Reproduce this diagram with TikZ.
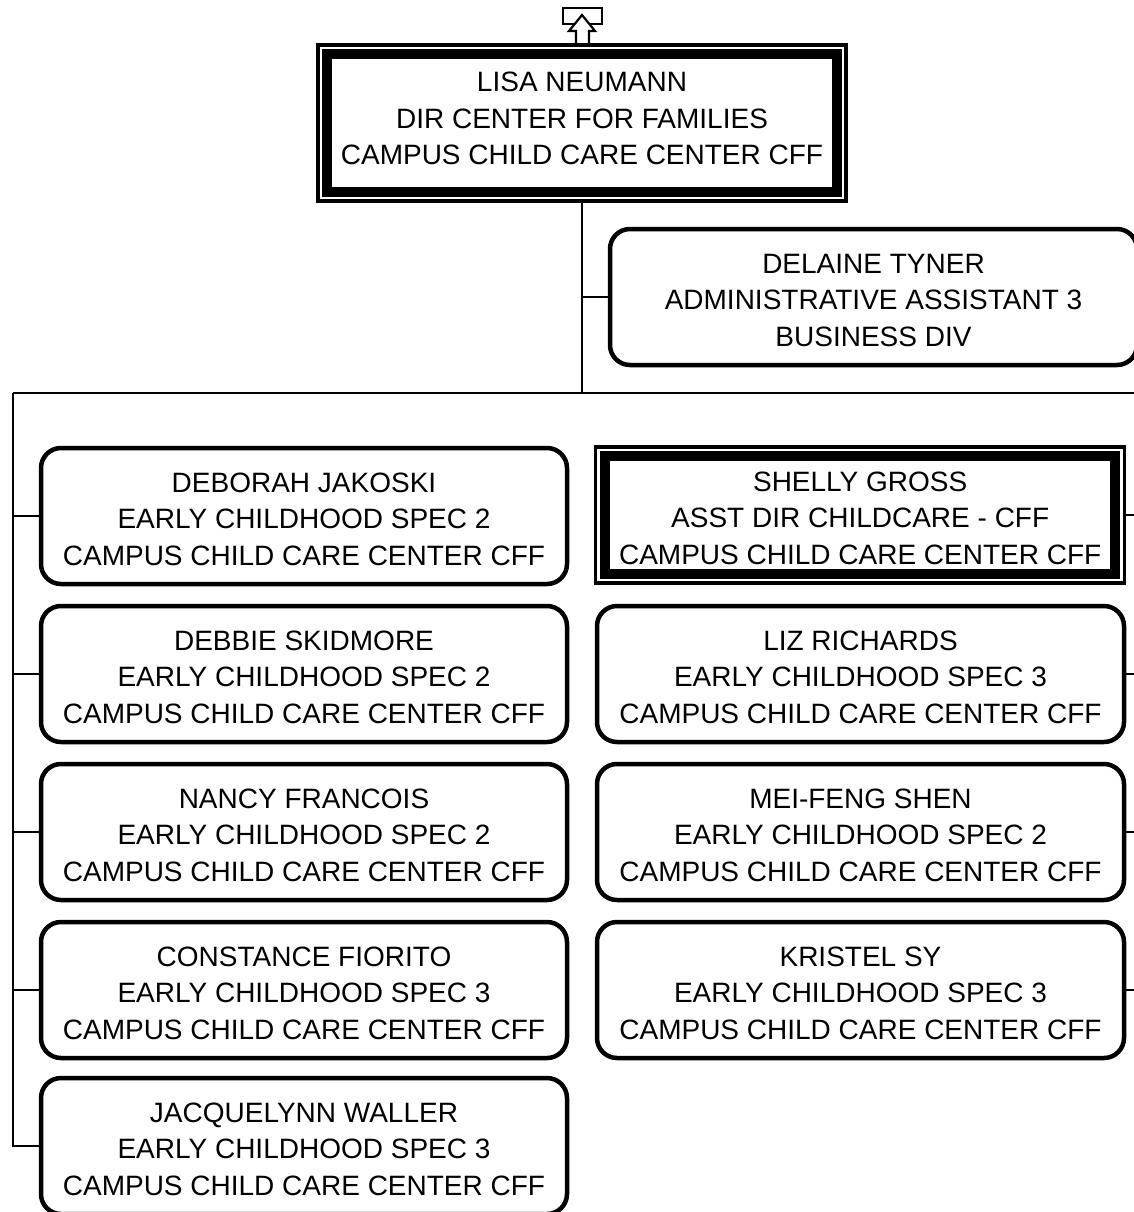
\documentclass[tikz,border=0pt]{standalone}
\usepackage{fontspec}
\setmainfont{Liberation Sans}
\newcommand\myup{\rule{0pt}{26pt}}
\begin{document}
\begin{tikzpicture}[x=1pt,y=-1pt,
  every node/.style={font=\fontsize{28}{36.5}\selectfont, align=center, inner sep=0pt, outer sep=0pt},
  rbox/.style={draw, line width=4.5pt, rounded corners=20pt, minimum width=527pt, minimum height=136pt},
  dbox/.style={draw, line width=3.5pt, minimum width=529pt, minimum height=136pt},
  band/.style={line width=10pt},
  conn/.style={line width=2.2pt}]
\useasboundingbox (0,0) rectangle (1134,1212);
\clip (0,0) rectangle (1134,1212);
% icon
\draw[line width=2.2pt] (563,8) rectangle (602,24);
\draw[line width=2.2pt, fill=white] (582,15) -- (595,31) -- (589,31) -- (589,45) -- (576,45) -- (576,31) -- (569,31) -- cycle;
% top
\node[dbox, minimum width=528pt, minimum height=156pt] (top) at (582,123) {LISA NEUMANN\\DIR CENTER FOR FAMILIES\\CAMPUS CHILD CARE CENTER CFF\rule[-9pt]{0pt}{9pt}};
\draw[band] ([shift={(9.25,9.25)}]top.north west) rectangle ([shift={(-9.25,-9.25)}]top.south east);
\node[rbox] (del) at (873.5,297) {\myup DELAINE TYNER\\ADMINISTRATIVE ASSISTANT 3\\BUSINESS DIV};
% left column
\node[rbox, minimum width=526pt] (deb) at (304,516) {\myup DEBORAH JAKOSKI\\EARLY CHILDHOOD SPEC 2\\CAMPUS CHILD CARE CENTER CFF};
\node[rbox, minimum width=526pt] (dsk) at (304,674) {\myup DEBBIE SKIDMORE\\EARLY CHILDHOOD SPEC 2\\CAMPUS CHILD CARE CENTER CFF};
\node[rbox, minimum width=526pt] (nan) at (304,832) {\myup NANCY FRANCOIS\\EARLY CHILDHOOD SPEC 2\\CAMPUS CHILD CARE CENTER CFF};
\node[rbox, minimum width=526pt] (con) at (304,990) {\myup CONSTANCE FIORITO\\EARLY CHILDHOOD SPEC 3\\CAMPUS CHILD CARE CENTER CFF};
\node[rbox, minimum width=526pt] (jac) at (304,1146) {\myup JACQUELYNN WALLER\\EARLY CHILDHOOD SPEC 3\\CAMPUS CHILD CARE CENTER CFF};
% right column
\node[dbox] (she) at (860.2,515) {\myup SHELLY GROSS\\ASST DIR CHILDCARE - CFF\\CAMPUS CHILD CARE CENTER CFF};
\draw[band] ([shift={(9.25,9.25)}]she.north west) rectangle ([shift={(-9.25,-9.25)}]she.south east);
\node[rbox] (liz) at (860.5,674) {\myup LIZ RICHARDS\\EARLY CHILDHOOD SPEC 3\\CAMPUS CHILD CARE CENTER CFF};
\node[rbox] (mei) at (860.5,832) {\myup MEI-FENG SHEN\\EARLY CHILDHOOD SPEC 2\\CAMPUS CHILD CARE CENTER CFF};
\node[rbox] (kri) at (860.5,990) {\myup KRISTEL SY\\EARLY CHILDHOOD SPEC 3\\CAMPUS CHILD CARE CENTER CFF};
% connectors
\coordinate (bus) at (582,393);
\coordinate (busL) at (13,393);
\coordinate (busR) at (1145,393);
\draw[conn] (top.south) -- (bus);
\draw[conn] (top.south |- del.west) -- (del.west);
\draw[conn] (busL) -- (busR);
\draw[conn] (busL) -- (busL |- jac.west) -- (jac.west);
\foreach \n in {deb,dsk,nan,con} \draw[conn] (busL |- \n.west) -- (\n.west);
\foreach \n in {she,liz,mei,kri} \draw[conn] (\n.east) -- (busR |- \n.east);
\end{tikzpicture}
\end{document}
